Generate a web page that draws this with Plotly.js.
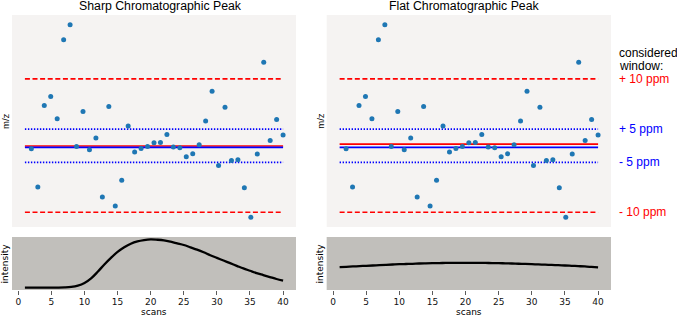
<!DOCTYPE html>
<html>
<head>
<meta charset="utf-8">
<script src="https://cdn.plot.ly/plotly-3.0.1.min.js"></script>
<style>
  html, body { margin: 0; padding: 0; background: #ffffff; }
  #chart { width: 677px; height: 316px; }
</style>
</head>
<body>
<div id="chart"></div>
<script>
// ---------------- data ----------------
const scans = [1,2,3,4,5,6,7,8,9,10,11,12,13,14,15,16,17,18,19,20,
               21,22,23,24,25,26,27,28,29,30,31,32,33,34,35,36,37,38,39,40];

// m/z deviation of each scan (ppm-like units)
const mzDeviation = [-0.47,-6.21,6.01,7.36,4.01,15.88,18.13,-0.12,5.11,-0.62,
                     1.12,-7.71,5.86,-9.06,-5.21,2.92,-0.97,-0.42,-0.12,0.42,
                     0.47,1.67,-0.22,-0.32,-1.67,-1.22,0.12,3.67,8.15,-2.97,
                     5.76,-2.22,-2.12,-6.31,-10.76,-1.27,12.49,0.77,3.92,1.57];

// chromatographic intensity profiles
const sharpIntensity = [0,0,0,0,0,0,0.5,2,6,14,
                        28,48,70,90,108,122,133,140,144,146,
                        145,143,139,134,129,122,115,107,98,90,
                        82,74,66,58,51,44,38,32,26,21];
const flatIntensity  = [62,63,64,65,66,67,68,69,70,71,
                        71.5,72,73,73.5,74,74.3,74.6,74.8,75,75,
                        75,74.8,74.6,74.3,74,73.5,73,72.3,71.7,71,
                        70.2,69.4,68.6,67.8,67,66,65,64,62.5,61];

// window lines
const windowX = [0, 40];
const outerWindow = [10, -10];      // +/- 10 ppm
const innerWindow = [2.47, -2.52];  // +/- 5 ppm
const trueCenter = -0.27;           // blue solid line
const sharpCenter = -0.07;          // red solid line, sharp peak
const flatCenter = 0.22;            // red solid line, flat peak

const panelTitles = ["Sharp Chromatographic Peak", "Flat Chromatographic Peak"];
const windowLabels = ["+ 10 ppm", "+ 5 ppm", "- 5 ppm", "- 10 ppm"];
const windowLevels = [outerWindow[0], innerWindow[0], innerWindow[1], outerWindow[1]];
const xTickVals = [0,5,10,15,20,25,30,35,40];

// ---------------- helpers ----------------
const W = 677, H = 316;
const px = v => v / W;
const py = v => 1 - v / H;

function pairLines(levels) {
  const x = [], y = [];
  levels.forEach((lv, i) => {
    if (i) { x.push(null); y.push(null); }
    x.push(windowX[0], windowX[1]); y.push(lv, lv);
  });
  return {x, y};
}

function topTraces(xa, ya, center) {
  const o = pairLines(outerWindow), n = pairLines(innerWindow);
  return [
    {x: o.x, y: o.y, xaxis: xa, yaxis: ya, mode: 'lines', hoverinfo: 'skip',
     line: {color: '#ff0000', width: 1.6, dash: '5px,2.6px'}},
    {x: n.x, y: n.y, xaxis: xa, yaxis: ya, mode: 'lines', hoverinfo: 'skip',
     line: {color: '#0000ff', width: 1.6, dash: '1.4px,1.6px'}},
    {x: windowX, y: [center, center], xaxis: xa, yaxis: ya, mode: 'lines',
     line: {color: '#ff0000', width: 1.6}},
    {x: windowX, y: [trueCenter, trueCenter], xaxis: xa, yaxis: ya, mode: 'lines',
     line: {color: '#0000ff', width: 1.6}},
    {x: scans, y: mzDeviation, xaxis: xa, yaxis: ya, mode: 'markers',
     marker: {color: '#1f77b4', size: 5}}
  ];
}

function botTrace(xa, ya, vals) {
  return {x: scans, y: vals, xaxis: xa, yaxis: ya, mode: 'lines',
          line: {color: '#000000', width: 2.3, shape: 'spline'}};
}

const data = [
  ...topTraces('x', 'y', sharpCenter),
  ...topTraces('x2', 'y2', flatCenter),
  botTrace('x3', 'y3', sharpIntensity),
  botTrace('x4', 'y4', flatIntensity)
];

// matplotlib-like 5% margins
function padRange(lo, hi) { const r = hi - lo; return [lo - 0.05 * r, hi + 0.05 * r]; }
const topY = padRange(Math.min(...mzDeviation), Math.max(...mzDeviation));
const topX = padRange(windowX[0], windowX[1]);
const botX = padRange(scans[0], scans[scans.length - 1]);
const allI = sharpIntensity.concat(flatIntensity);
const botY = padRange(Math.min(...allI), Math.max(...allI));

const leftDom = [px(12), px(296)];
const rightDom = [px(326.7), px(611)];
const topDom = [py(227), py(15)];
const botDom = [py(290), py(237)];

const hidden = {showgrid: false, zeroline: false, showline: false, showticklabels: false, ticks: ''};
const tickAxis = {
  showgrid: false, zeroline: false, showline: false,
  tickmode: 'array', tickvals: xTickVals, ticktext: xTickVals.map(String),
  ticks: 'outside', ticklen: 3.5, tickwidth: 0.8, tickcolor: '#333333',
  tickfont: {family: 'DejaVu Sans', size: 9, color: '#111111'}
};

const sans = 'Liberation Sans, Arial, sans-serif';
const annotations = [];
// titles
annotations.push({text: panelTitles[0], x: px(160), y: py(6), xref: 'paper', yref: 'paper',
  xanchor: 'center', yanchor: 'middle', showarrow: false, font: {family: sans, size: 12.3, color: '#000'}});
annotations.push({text: panelTitles[1], x: px(464.7), y: py(6), xref: 'paper', yref: 'paper',
  xanchor: 'center', yanchor: 'middle', showarrow: false, font: {family: sans, size: 12.3, color: '#000'}});
// y labels
[[5, 'm/z', 121, sans, 9.5], [4.5, 'intensity', 264, 'DejaVu Sans', 9],
 [319.7, 'm/z', 121, sans, 9.5], [319.5, 'intensity', 264, 'DejaVu Sans', 9]].forEach(a => {
  annotations.push({text: a[1], x: px(a[0]), y: py(a[2]), xref: 'paper', yref: 'paper',
    xanchor: 'center', yanchor: 'middle', textangle: -90, showarrow: false,
    font: {family: a[3], size: a[4], color: '#000'}});
});
// x labels
[[154, 'scans'], [469, 'scans']].forEach(a => {
  annotations.push({text: a[1], x: px(a[0]), y: py(312), xref: 'paper', yref: 'paper',
    xanchor: 'center', yanchor: 'middle', showarrow: false,
    font: {family: 'DejaVu Sans', size: 9, color: '#000'}});
});
// window legend
annotations.push({text: 'considered', x: px(617), y: py(53), xref: 'paper', yref: 'paper',
  xanchor: 'left', yanchor: 'middle', showarrow: false, font: {family: sans, size: 12, color: '#000'}});
annotations.push({text: 'window:', x: px(617), y: py(65.5), xref: 'paper', yref: 'paper',
  xanchor: 'left', yanchor: 'middle', showarrow: false, font: {family: sans, size: 12, color: '#000'}});
windowLabels.forEach((t, i) => {
  annotations.push({text: t, x: px(617), y: windowLevels[i], xref: 'paper', yref: 'y2',
    xanchor: 'left', yanchor: 'middle', showarrow: false,
    font: {family: sans, size: 12, color: (i === 0 || i === 3) ? '#ff0000' : '#0000ff'}});
});

const layout = {
  width: W, height: H,
  margin: {l: 0, r: 0, t: 0, b: 0},
  paper_bgcolor: '#ffffff',
  plot_bgcolor: '#f5f3f2',
  showlegend: false,
  xaxis:  Object.assign({}, hidden, {domain: leftDom,  range: topX, anchor: 'y'}),
  yaxis:  Object.assign({}, hidden, {domain: topDom,   range: topY, anchor: 'x'}),
  xaxis2: Object.assign({}, hidden, {domain: rightDom, range: topX, anchor: 'y2'}),
  yaxis2: Object.assign({}, hidden, {domain: topDom,   range: topY, anchor: 'x2'}),
  xaxis3: Object.assign({}, tickAxis, {domain: leftDom,  range: botX, anchor: 'y3'}),
  yaxis3: Object.assign({}, hidden,   {domain: botDom,   range: botY, anchor: 'x3'}),
  xaxis4: Object.assign({}, tickAxis, {domain: rightDom, range: botX, anchor: 'y4'}),
  yaxis4: Object.assign({}, hidden,   {domain: botDom,   range: botY, anchor: 'x4'}),
  shapes: [
    {type: 'rect', xref: 'x3 domain', yref: 'y3 domain', x0: 0, x1: 1, y0: 0, y1: 1,
     fillcolor: '#c1bfbb', line: {width: 0}, layer: 'below'},
    {type: 'rect', xref: 'x4 domain', yref: 'y4 domain', x0: 0, x1: 1, y0: 0, y1: 1,
     fillcolor: '#c1bfbb', line: {width: 0}, layer: 'below'}
  ],
  annotations: annotations
};

Plotly.newPlot('chart', data, layout, {displayModeBar: false, staticPlot: true});
</script>
</body>
</html>
